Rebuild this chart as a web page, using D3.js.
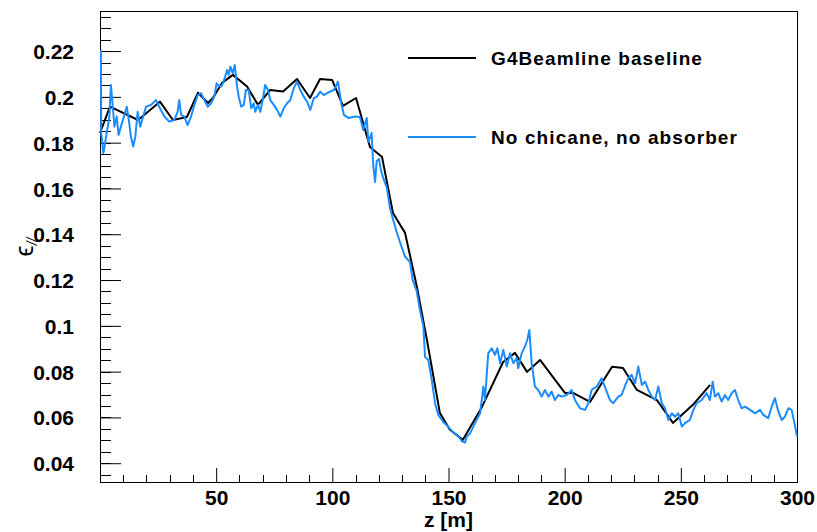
<!DOCTYPE html>
<html>
<head>
<meta charset="utf-8">
<script src="https://cdn.jsdelivr.net/npm/d3@7"></script>
<style>
  html, body { margin: 0; padding: 0; background: #fff; }
  svg { display: block; font-family: "Liberation Sans", Arial, sans-serif; }
</style>
</head>
<body>
<svg id="chart" width="817" height="532"></svg>
<script>
// Longitudinal emittance along the channel, z in metres
const baselineZ = [0, 4.3, 16.4, 25.8, 31.4, 37.4, 42.2, 46.5, 48.6, 52.5, 57.2, 63.3, 68.0, 73.2, 78.8, 84.8,
  90.4, 94.7, 99.9, 104.6, 110.2, 116.2, 121.4, 126.1, 131.3, 136.4, 140.7, 146.3, 150.6, 156.2, 164.4,
  173.5, 178.6, 183.8, 189.4, 200.1, 203.6, 210.9, 220.4, 225.1, 231.1, 239.7, 246.6, 255.2, 262.6];
const baselineEps = [0.1843, 0.1957, 0.1899, 0.1979, 0.1899, 0.1912, 0.2018, 0.1973, 0.1995, 0.2061, 0.2096,
  0.2045, 0.1965, 0.2030, 0.2023, 0.2078, 0.1995, 0.2078, 0.2074, 0.1961, 0.1995, 0.1781, 0.1737, 0.1493,
  0.1406, 0.1170, 0.0939, 0.0619, 0.0546, 0.0502, 0.0646, 0.0842, 0.0882, 0.0799, 0.0851, 0.0707, 0.0707,
  0.0668, 0.0821, 0.0816, 0.0720, 0.0676, 0.0576, 0.0655, 0.0742];

const noChicaneZ = [0.4, 0.5, 0.9, 1.4, 1.9, 2.6, 4.0, 4.7, 5.5, 6.2, 7.2, 8.0, 9.0, 10.5, 11.5, 12.4, 13.3, 14.3,
  15.2, 16.2, 17.3, 18.4, 19.8, 22.0, 24.1, 25.5, 27.7, 29.8, 32.0, 33.4, 34.1, 34.9, 36.3, 37.7, 39.2, 40.6,
  42.1, 43.5, 44.9, 46.4, 47.8, 49.2, 50.2, 51.1, 52.2, 53.2, 54.7, 55.4, 56.1, 57.1, 58.0, 59.0, 59.7, 60.8,
  61.9, 62.8, 64.0, 65.1, 66.2, 66.8, 68.0, 69.0, 70.0, 71.1, 72.3, 73.3, 74.8, 76.2, 77.6, 79.1, 80.5, 81.9,
  83.4, 84.8, 86.2, 87.7, 89.1, 90.5, 92.0, 93.4, 94.8, 96.3, 97.7, 99.1, 100.6, 101.6, 102.4, 103.9, 105.0,
  106.9, 109.8, 111.9, 113.3, 114.8, 115.5, 116.9, 117.6, 118.4, 119.1, 120.1, 120.9, 121.9, 123.5, 124.8,
  126.2, 127.7, 129.1, 131.3, 133.4, 134.6, 136.3, 137.7, 139.2, 139.9, 141.3, 142.8, 144.2, 145.6, 147.8,
  149.9, 152.1, 154.2, 155.7, 157.1, 157.8, 159.3, 161.4, 163.6, 165.0, 165.7, 167.1, 168.6, 170.0, 171.0,
  172.2, 173.6, 175.1, 176.5, 177.9, 179.4, 180.0, 181.5, 182.9, 183.9, 184.8, 185.8, 187.2, 188.6, 190.1,
  191.5, 193.0, 194.4, 195.8, 197.3, 198.7, 200.9, 203.0, 204.4, 206.6, 208.8, 210.2, 211.6, 213.8, 215.9,
  218.1, 219.5, 220.9, 223.1, 224.5, 226.4, 227.4, 228.8, 230.3, 231.7, 233.2, 234.6, 236.0, 237.5, 238.9,
  240.3, 241.8, 243.2, 244.6, 246.1, 247.5, 248.9, 250.4, 251.8, 253.9, 255.4, 256.8, 259.0, 261.1, 262.5,
  263.7, 264.7, 266.1, 267.6, 269.0, 270.4, 271.9, 273.3, 274.7, 276.2, 277.6, 279.8, 281.9, 284.1, 285.5,
  287.6, 289.1, 290.5, 292.0, 293.4, 294.8, 296.3, 297.7, 299.2, 300];
const noChicaneEps = [0.2205, 0.1842, 0.1812, 0.1755, 0.1777, 0.1826, 0.1908, 0.2052, 0.1957, 0.1870, 0.1914,
  0.1834, 0.1870, 0.1921, 0.1957, 0.1899, 0.1826, 0.1783, 0.1826, 0.1935, 0.1870, 0.1908, 0.1957, 0.1965,
  0.1986, 0.1957, 0.1914, 0.1892, 0.1899, 0.1934, 0.1986, 0.1921, 0.1914, 0.1877, 0.1914, 0.1965, 0.2008,
  0.2016, 0.1986, 0.1957, 0.1972, 0.2001, 0.2059, 0.2048, 0.2045, 0.2066, 0.2117, 0.2096, 0.2132, 0.2103,
  0.2139, 0.2045, 0.2001, 0.1957, 0.1965, 0.2030, 0.2030, 0.1950, 0.1972, 0.1935, 0.1965, 0.1935, 0.1986,
  0.2052, 0.2030, 0.1986, 0.1965, 0.1943, 0.1914, 0.1950, 0.1972, 0.1986, 0.2038, 0.2066, 0.2030, 0.2001,
  0.1979, 0.1943, 0.1994, 0.2001, 0.2023, 0.2008, 0.2016, 0.2023, 0.2030, 0.2048, 0.2066, 0.1969, 0.1921,
  0.1908, 0.1914, 0.1912, 0.1855, 0.1908, 0.1803, 0.1842, 0.1703, 0.1628, 0.1720, 0.1729, 0.1681, 0.1646,
  0.1602, 0.1515, 0.1462, 0.1410, 0.1366, 0.1302, 0.1280, 0.1200, 0.1152, 0.1069, 0.0997, 0.0865, 0.0851,
  0.0764, 0.0662, 0.0611, 0.0580, 0.0559, 0.0534, 0.0519, 0.0497, 0.0490, 0.0515, 0.0531, 0.0575, 0.0618,
  0.0735, 0.0676, 0.0880, 0.0902, 0.0873, 0.0902, 0.0837, 0.0895, 0.0822, 0.0880, 0.0837, 0.0859, 0.0815,
  0.0880, 0.0909, 0.0938, 0.0982, 0.0837, 0.0735, 0.0720, 0.0691, 0.0720, 0.0691, 0.0713, 0.0676, 0.0698,
  0.0691, 0.0698, 0.0720, 0.0676, 0.0640, 0.0633, 0.0662, 0.0720, 0.0735, 0.0771, 0.0713, 0.0676, 0.0662,
  0.0691, 0.0698, 0.0749, 0.0771, 0.0786, 0.0749, 0.0822, 0.0742, 0.0756, 0.0720, 0.0691, 0.0676, 0.0735,
  0.0662, 0.0640, 0.0589, 0.0618, 0.0603, 0.0618, 0.0560, 0.0575, 0.0589, 0.0633, 0.0662, 0.0676, 0.0706,
  0.0676, 0.0756, 0.0691, 0.0706, 0.0669, 0.0698, 0.0676, 0.0706, 0.0720, 0.0676, 0.0640, 0.0647, 0.0633,
  0.0618, 0.0633, 0.0611, 0.0597, 0.0647, 0.0684, 0.0625, 0.0589, 0.0603, 0.0640, 0.0633, 0.0560, 0.0516];

const seriesNames = ["G4Beamline baseline", "No chicane, no absorber"];
const seriesColors = ["#000000", "#1a8cff"];
const xTickValues = [50, 100, 150, 200, 250, 300];
const yTickValues = [0.04, 0.06, 0.08, 0.1, 0.12, 0.14, 0.16, 0.18, 0.2, 0.22];

const svg = d3.select("#chart");
const frameL = 100, frameR = 797, frameT = 11, frameB = 482;

const x = d3.scaleLinear().domain([0, 300]).range([frameL, frameR]);
const y = d3.scaleLinear().domain([0.0318, 0.2375]).range([frameB, frameT]);

svg.append("rect").attr("width", 817).attr("height", 532).attr("fill", "#fff");

svg.append("clipPath").attr("id", "plotClip")
  .append("rect").attr("x", frameL - 1).attr("y", frameT).attr("width", frameR - frameL + 2).attr("height", frameB - frameT);

// frame
svg.append("rect")
  .attr("x", frameL + 0.5).attr("y", frameT + 0.5).attr("width", frameR - frameL).attr("height", frameB - frameT)
  .attr("fill", "none").attr("stroke", "#000").attr("stroke-width", 1);

// y axis: ticks point into the frame
const yMinor = d3.range(0.035, 0.2376, 0.005).filter(v => y(v) <= frameB && y(v) >= frameT);
const yAxis = d3.axisLeft(y).tickValues(yTickValues).tickSize(-21).tickPadding(26)
  .tickFormat(d3.format("~g"));
const yg = svg.append("g").attr("transform", `translate(${frameL},0)`).call(yAxis);
yg.select(".domain").remove();
yg.selectAll(".tick line").attr("stroke", "#000");
yg.selectAll(".tick text").attr("font-size", 21).attr("font-weight", "bold").attr("fill", "#000")
  .attr("font-family", "Liberation Sans, Arial, sans-serif").attr("dy", "0.36em");
svg.append("g").selectAll("line").data(yMinor).join("line")
  .attr("x1", frameL).attr("x2", frameL + 11)
  .attr("y1", d => Math.round(y(d)) + 0.5).attr("y2", d => Math.round(y(d)) + 0.5)
  .attr("stroke", "#000");

// x axis
const xMinor = d3.range(10, 300, 10).filter(v => v % 50 !== 0);
const xAxis = d3.axisBottom(x).tickValues(xTickValues).tickSize(-14).tickPadding(8)
  .tickFormat(d3.format("d"));
const xg = svg.append("g").attr("transform", `translate(0,${frameB})`).call(xAxis);
xg.select(".domain").remove();
xg.selectAll(".tick line").attr("stroke", "#000");
xg.selectAll(".tick text").attr("font-size", 21).attr("font-weight", "bold").attr("fill", "#000")
  .attr("font-family", "Liberation Sans, Arial, sans-serif");
svg.append("g").selectAll("line").data(xMinor).join("line")
  .attr("x1", d => Math.round(x(d)) + 0.5).attr("x2", d => Math.round(x(d)) + 0.5)
  .attr("y1", frameB).attr("y2", frameB - 7)
  .attr("stroke", "#000");

// curves, drawn over the frame
const line = d3.line().x(d => x(d[0])).y(d => y(d[1]));
const plot = svg.append("g").attr("clip-path", "url(#plotClip)");
const baseline = baselineZ.map((z, i) => [z, baselineEps[i]]);
const noChicane = noChicaneZ.map((z, i) => [z, noChicaneEps[i]]);

plot.append("path").datum(baseline).attr("d", line)
  .attr("fill", "none").attr("stroke", seriesColors[0]).attr("stroke-width", 2).attr("stroke-linejoin", "round");
plot.append("path").datum(noChicane).attr("d", line)
  .attr("fill", "none").attr("stroke", seriesColors[1]).attr("stroke-width", 2).attr("stroke-linejoin", "round");

// axis titles
svg.append("text").attr("x", (frameL + frameR) / 2).attr("y", 527)
  .attr("text-anchor", "middle").attr("font-size", 21).attr("font-weight", "bold").text("z [m]");

const yt = svg.append("text").attr("transform", "translate(33,247) rotate(-90)")
  .attr("text-anchor", "middle");
yt.append("tspan").attr("font-size", 25).text("ϵ");
yt.append("tspan").attr("font-size", 14).attr("font-style", "italic").attr("dy", 4).text("//");

// legend
const legendY = [58, 137];
const lg = svg.append("g");
seriesNames.forEach((name, i) => {
  lg.append("line").attr("x1", 408).attr("x2", 476).attr("y1", legendY[i]).attr("y2", legendY[i])
    .attr("stroke", seriesColors[i]).attr("stroke-width", 2);
  lg.append("text").attr("x", 491).attr("y", legendY[i] + 6.5)
    .attr("font-size", 19).attr("font-weight", "bold").attr("letter-spacing", "1.1px").text(name);
});
</script>
</body>
</html>
